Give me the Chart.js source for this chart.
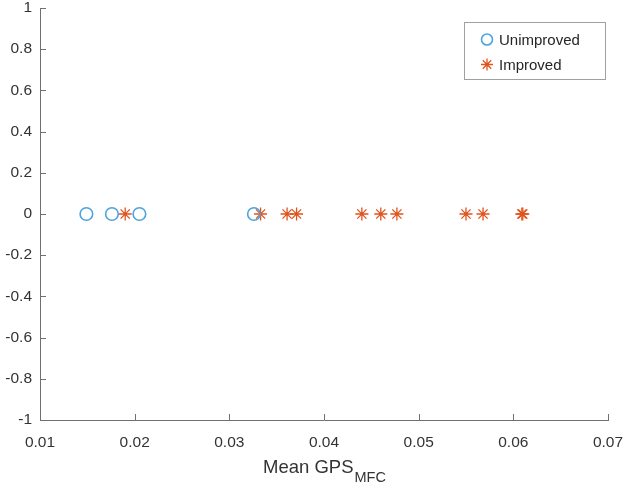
<!DOCTYPE html>
<html>
<head>
<meta charset="utf-8">
<script src="https://cdn.jsdelivr.net/npm/chart.js@4"></script>
<style>
  html, body { margin: 0; padding: 0; background: #ffffff; }
  #wrap { width: 632px; height: 485px; }
</style>
</head>
<body>
<div id="wrap"><canvas id="c" width="632" height="485"></canvas></div>
<script>
// ---- data ----
const unimprovedX = [0.0149, 0.0176, 0.0205, 0.0326];
const unimprovedY = [0, 0, 0, 0];
const improvedX = [0.0190, 0.0333, 0.0361, 0.0371, 0.0440, 0.0460, 0.0477, 0.0550, 0.0568, 0.0609, 0.0610];
const improvedY = [0, 0, 0, 0, 0, 0, 0, 0, 0, 0, 0];
const seriesNames = ['Unimproved', 'Improved'];
const xTicks = [0.01, 0.02, 0.03, 0.04, 0.05, 0.06, 0.07];
const yTicks = [-1, -0.8, -0.6, -0.4, -0.2, 0, 0.2, 0.4, 0.6, 0.8, 1];
const xTitleMain = 'Mean GPS';
const xTitleSub = 'MFC';

const AXIS = '#707070';
const TEXT = '#333333';
const FONT = '"Liberation Sans", Arial, sans-serif';

const toPts = (xs, ys) => xs.map((x, i) => ({ x: x, y: ys[i] }));

function drawMarker(ctx, style, x, y, r, color, lw) {
  ctx.save();
  ctx.strokeStyle = color;
  ctx.lineWidth = lw;
  ctx.beginPath();
  if (style === 'circle') {
    ctx.arc(x, y, r, 0, Math.PI * 2);
  } else {
    for (let k = 0; k < 4; k++) {
      const a = k * Math.PI / 4;
      ctx.moveTo(x - r * Math.cos(a), y - r * Math.sin(a));
      ctx.lineTo(x + r * Math.cos(a), y + r * Math.sin(a));
    }
  }
  ctx.stroke();
  ctx.restore();
}

const decorPlugin = {
  id: 'decor',
  afterDraw(chart) {
    const ctx = chart.ctx;
    const ca = chart.chartArea;
    const xs = chart.scales.x, ys = chart.scales.y;
    ctx.save();
    // inward ticks
    ctx.strokeStyle = AXIS;
    ctx.lineWidth = 1;
    ctx.beginPath();
    xTicks.forEach(v => {
      const px = Math.round(xs.getPixelForValue(v)) + 0.5;
      ctx.moveTo(px, ca.bottom);
      ctx.lineTo(px, ca.bottom - 6);
    });
    yTicks.forEach(v => {
      const py = Math.round(ys.getPixelForValue(v)) + 0.5;
      ctx.moveTo(ca.left, py);
      ctx.lineTo(ca.left + 6, py);
    });
    ctx.stroke();

    // axis title with subscript
    ctx.fillStyle = TEXT;
    ctx.textBaseline = 'alphabetic';
    ctx.font = '18.5px ' + FONT;
    const wMain = ctx.measureText(xTitleMain).width;
    ctx.font = '14.5px ' + FONT;
    const wSub = ctx.measureText(xTitleSub).width;
    const cx = (ca.left + ca.right) / 2;
    const start = cx - (wMain + wSub) / 2;
    ctx.font = '18.5px ' + FONT;
    ctx.fillText(xTitleMain, start, 473);
    ctx.font = '14.5px ' + FONT;
    ctx.fillText(xTitleSub, start + wMain + 1, 482);

    // legend box
    const bx = 464.5, by = 22.5, bw = 141, bh = 57;
    ctx.fillStyle = '#ffffff';
    ctx.fillRect(bx, by, bw, bh);
    ctx.strokeStyle = '#a0a0a0';
    ctx.lineWidth = 1;
    ctx.strokeRect(bx, by, bw, bh);
    ctx.font = '15px ' + FONT;
    ctx.textBaseline = 'middle';
    ctx.fillStyle = '#262626';
    const ds = chart.data.datasets;
    const rows = [39.5, 64.5];
    ds.forEach((d, i) => {
      drawMarker(ctx, d.pointStyle, 487, rows[i], d.pointStyle === 'circle' ? 5.5 : 6, d.borderColor, d.borderWidth);
      ctx.fillText(d.label, 499, rows[i] + 1);
    });
    ctx.restore();
  }
};

new Chart(document.getElementById('c'), {
  type: 'scatter',
  data: {
    datasets: [
      {
        label: seriesNames[0],
        data: toPts(unimprovedX, unimprovedY),
        pointStyle: 'circle',
        pointRadius: 6.3,
        pointHoverRadius: 6.3,
        borderColor: '#4ea3dc',
        backgroundColor: 'rgba(0,0,0,0)',
        borderWidth: 1.6
      },
      {
        label: seriesNames[1],
        data: toPts(improvedX, improvedY),
        pointStyle: 'star',
        pointRadius: 6.5,
        pointHoverRadius: 6.5,
        borderColor: '#e0531c',
        backgroundColor: '#e0531c',
        borderWidth: 1.3
      }
    ]
  },
  options: {
    responsive: false,
    animation: false,
    events: [],
    layout: { padding: { top: 8, right: 24, left: 0, bottom: 0 } },
    plugins: {
      legend: { display: false },
      tooltip: { enabled: false },
      title: { display: false }
    },
    scales: {
      x: {
        type: 'linear',
        min: 0.01,
        max: 0.07,
        afterBuildTicks(scale) { scale.ticks = xTicks.map(v => ({ value: v })); },
        afterFit(scale) { scale.height = 65; scale.paddingLeft = 0; scale.paddingRight = 0; },
        grid: { display: false, drawTicks: false },
        border: { display: true, color: AXIS, width: 1 },
        ticks: {
          color: TEXT,
          padding: 13,
          maxRotation: 0,
          autoSkip: false,
          font: { family: FONT, size: 15.5 },
          callback: v => String(Number(v.toFixed(2)))
        }
      },
      y: {
        type: 'linear',
        min: -1,
        max: 1,
        afterBuildTicks(scale) { scale.ticks = yTicks.map(v => ({ value: v })); },
        afterFit(scale) { scale.width = 40; scale.paddingTop = 0; scale.paddingBottom = 0; },
        grid: { display: false, drawTicks: false },
        border: { display: true, color: AXIS, width: 1 },
        ticks: {
          color: TEXT,
          padding: 8,
          autoSkip: false,
          font: { family: FONT, size: 15.5 },
          callback: v => String(Number(v.toFixed(1)))
        }
      }
    }
  },
  plugins: [decorPlugin]
});
</script>
</body>
</html>
